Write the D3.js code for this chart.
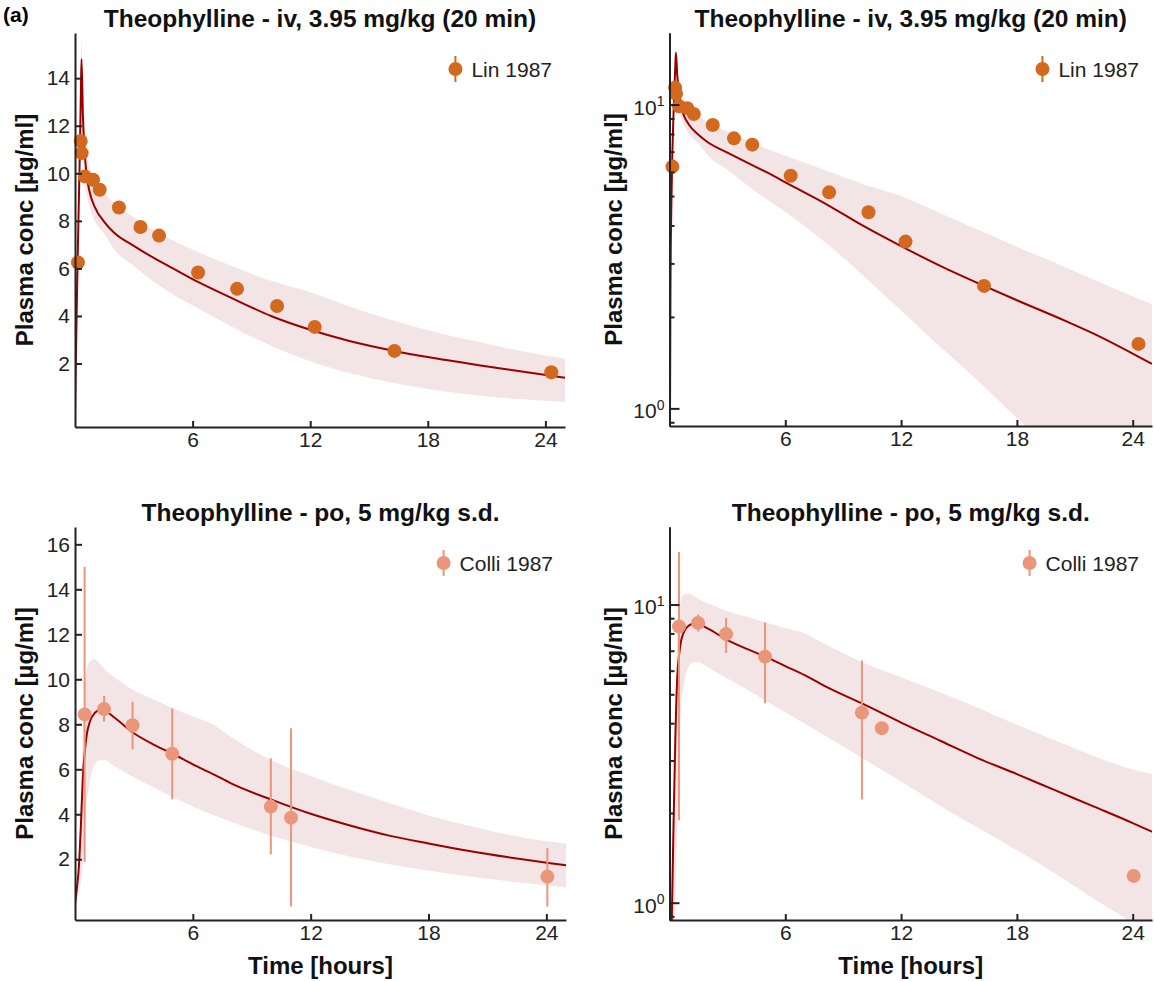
<!DOCTYPE html>
<html lang="en">
<head>
<meta charset="UTF-8">
<title>Theophylline PK</title>
<script src="https://d3js.org/d3.v7.min.js"></script>
<style>
    body { margin: 0; background: #fff; }
    svg { display: block; font-family: "Liberation Sans", Arial, sans-serif; }
    .axis path, .axis line { stroke: #222; stroke-width: 2; }
    .axis text { font-size: 21px; fill: #222; font-family: "Liberation Sans", Arial, sans-serif; }
    .title { font-size: 24.5px; font-weight: bold; fill: #111; }
    .axlab { font-size: 24px; font-weight: bold; fill: #111; }
    .legend text { font-size: 21px; fill: #222; }
</style>
</head>
<body>
<svg id="chart" width="1154" height="981"></svg>
<script>
    // simulation, iv infusion 3.95 mg/kg over 20 min (median + ribbon)
    const ivTime  = [0, 0.01, 0.05, 0.1, 0.15, 0.2, 0.25, 0.3, 0.333, 0.4, 0.5, 0.6, 0.75, 1, 1.5, 2, 3, 4, 5, 6.3, 8, 10, 12, 14, 16.3, 18, 20.6, 22, 25];
    const ivSim   = [0, 0.5, 2.4, 4.8, 7.0, 9.0, 11.0, 13.4, 14.8, 12.5, 10.8, 9.9, 9.2, 8.6, 7.95, 7.5, 6.95, 6.45, 6.0, 5.42, 4.75, 4.0, 3.42, 2.95, 2.53, 2.27, 1.93, 1.76, 1.4];
    const ivLower = [0, 0.45, 2.2, 4.4, 6.4, 8.2, 10.0, 12.2, 13.5, 11.3, 9.7, 9.1, 8.6, 8.0, 7.45, 6.8, 6.1, 5.45, 4.9, 4.3, 3.55, 2.75, 2.1, 1.6, 1.18, 0.93, 0.66, 0.55, 0.39];
    const ivUpper = [0, 0.55, 2.6, 5.2, 7.6, 9.8, 12.0, 14.5, 15.6, 14.0, 11.8, 10.8, 10.2, 9.7, 9.15, 8.75, 8.15, 7.62, 7.17, 6.68, 6.1, 5.48, 5.0, 4.4, 3.8, 3.4, 2.9, 2.65, 2.2];

    // observed, Lin 1987
    const linTime = [0.15, 0.29, 0.34, 0.5, 0.92, 1.26, 2.24, 3.34, 4.29, 6.28, 8.27, 10.31, 12.23, 16.3, 24.3];
    const linConc = [6.25, 11.36, 10.85, 9.87, 9.73, 9.31, 8.56, 7.74, 7.38, 5.83, 5.14, 4.42, 3.54, 2.53, 1.63];

    // simulation, po 5 mg/kg single dose
    const poTime  = [0, 0.1, 0.2, 0.3, 0.4, 0.5, 0.6, 0.75, 1, 1.25, 1.5, 2, 3, 4, 5, 6, 7, 8, 10, 12, 14, 16, 18, 20, 22, 24, 25];
    const poSim   = [0, 0.75, 1.7, 3.5, 5.65, 6.8, 7.55, 8.1, 8.5, 8.62, 8.6, 8.3, 7.6, 7.1, 6.68, 6.22, 5.8, 5.35, 4.65, 4.02, 3.5, 3.05, 2.7, 2.38, 2.1, 1.85, 1.73];
    const poLower = [0, 0.3, 0.6, 1.0, 1.8, 3.3, 4.5, 5.4, 6.2, 6.4, 6.4, 6.15, 5.65, 5.2, 4.75, 4.35, 3.98, 3.65, 3.05, 2.55, 2.12, 1.78, 1.5, 1.25, 1.03, 0.85, 0.75];
    const poUpper = [0, 0.9, 2.0, 4.5, 7.5, 9.6, 10.4, 10.8, 10.9, 10.7, 10.45, 10.1, 9.5, 9.1, 8.7, 8.35, 8.0, 7.4, 6.4, 5.7, 5.08, 4.5, 3.95, 3.5, 3.1, 2.8, 2.7];

    // observed, Colli 1987 (mean and error bar ends)
    const colliTime = [0.49, 1.48, 2.93, 4.95, 9.97, 11.0, 24.05];
    const colliConc = [8.44, 8.68, 7.96, 6.69, 4.34, 3.85, 1.23];
    const colliLow  = [1.89, 8.12, 6.89, 4.67, 2.22, -0.1, -0.1];
    const colliHigh = [15.0, 9.26, 9.0, 8.71, 6.49, 7.82, 2.49];

    const xTicks = [6, 12, 18, 24];
    const ivLinTicks = [2, 4, 6, 8, 10, 12, 14];
    const poLinTicks = [2, 4, 6, 8, 10, 12, 14, 16];
    const logMajor = [1, 10];
    const logMinor = [0.9, 2, 3, 4, 5, 6, 7, 8, 9];

    const ivTitle = "Theophylline - iv, 3.95 mg/kg (20 min)";
    const poTitle = "Theophylline - po, 5 mg/kg s.d.";

    const lineColor = "#9b0000";
    const ribbonColor = "#f3e4e5";

    const svg = d3.select("#chart");

    const panels = [
        { id: "tl", left: 75, right: 565, top: 33, bottom: 427, log: false, yDomain: [-0.67, 15.9], yTicks: ivLinTicks, labX: 33,
          title: ivTitle, xlab: false, sim: [ivTime, ivSim, ivLower, ivUpper], obs: "Lin 1987", color: "#d3691f" },
        { id: "tr", left: 669.5, right: 1152, top: 33, bottom: 426, log: true, yDomain: [0.875, 17.2], labX: 622,
          title: ivTitle, xlab: false, sim: [ivTime, ivSim, ivLower, ivUpper], obs: "Lin 1987", color: "#d3691f" },
        { id: "bl", left: 75, right: 566, top: 527, bottom: 920, log: false, yDomain: [-0.7, 16.77], yTicks: poLinTicks, labX: 33,
          title: poTitle, xlab: true, sim: [poTime, poSim, poLower, poUpper], obs: "Colli 1987", color: "#e9967a" },
        { id: "br", left: 669.5, right: 1152, top: 527, bottom: 920, log: true, yDomain: [0.875, 18.2], labX: 622,
          title: poTitle, xlab: true, sim: [poTime, poSim, poLower, poUpper], obs: "Colli 1987", color: "#e9967a" }
    ];

    function drawPanel(p) {
        const g = svg.append("g");
        const x = d3.scaleLinear().domain([0, 25]).range([p.left, p.right]);
        const y = (p.log ? d3.scaleLog() : d3.scaleLinear()).domain(p.yDomain).range([p.bottom, p.top]);
        const ok = v => !p.log || v > 0;

        g.append("clipPath").attr("id", "clip-" + p.id)
            .append("rect")
            .attr("x", p.left).attr("y", p.top)
            .attr("width", p.right - p.left).attr("height", p.bottom - p.top);

        const [time, sim, lower, upper] = p.sim;
        const idx = d3.range(time.length);

        const area = d3.area()
            .defined(i => ok(lower[i]) && ok(upper[i]))
            .x(i => x(time[i]))
            .y0(i => y(lower[i]))
            .y1(i => y(upper[i]))
            .curve(d3.curveMonotoneX);

        const line = d3.line()
            .defined(i => ok(sim[i]))
            .x(i => x(time[i]))
            .y(i => y(sim[i]))
            .curve(d3.curveMonotoneX);

        const plot = g.append("g").attr("clip-path", `url(#clip-${p.id})`);
        plot.append("path").datum(idx).attr("d", area).attr("fill", ribbonColor);
        plot.append("path").datum(idx).attr("d", line)
            .attr("fill", "none").attr("stroke", lineColor).attr("stroke-width", 2);

        // observed data
        let pts;
        if (p.obs === "Lin 1987") {
            pts = linTime.map((t, i) => ({ t: t, c: linConc[i] }));
        } else {
            pts = colliTime.map((t, i) => ({ t: t, c: colliConc[i], lo: colliLow[i], hi: colliHigh[i] }));
            // on log axes a bar whose lower end is <= 0 is dropped
            g.selectAll(".err").data(pts.filter(d => ok(d.lo)))
                .join("line")
                .attr("x1", d => x(d.t)).attr("x2", d => x(d.t))
                .attr("y1", d => y(d.lo)).attr("y2", d => y(d.hi))
                .attr("stroke", p.color).attr("stroke-width", 2);
        }
        g.selectAll(".pt").data(pts)
            .join("circle")
            .attr("cx", d => x(d.t)).attr("cy", d => y(d.c))
            .attr("r", 7).attr("fill", p.color);

        // axes, ticks point inward
        g.append("g").attr("class", "axis")
            .attr("transform", `translate(0,${p.bottom})`)
            .call(d3.axisBottom(x).tickValues(xTicks).tickSize(-6).tickSizeOuter(0).tickPadding(5));

        if (!p.log) {
            g.append("g").attr("class", "axis")
                .attr("transform", `translate(${p.left},0)`)
                .call(d3.axisLeft(y).tickValues(p.yTicks).tickSize(-7).tickSizeOuter(0).tickPadding(5));
        } else {
            const inDom = v => v >= p.yDomain[0] && v <= p.yDomain[1];
            g.append("g").attr("class", "axis")
                .attr("transform", `translate(${p.left},0)`)
                .call(d3.axisLeft(y).tickValues(logMinor.filter(inDom)).tickSize(-5).tickSizeOuter(0).tickFormat(""));
            const major = g.append("g").attr("class", "axis")
                .attr("transform", `translate(${p.left},0)`)
                .call(d3.axisLeft(y).tickValues(logMajor.filter(inDom)).tickSize(-10).tickSizeOuter(0).tickPadding(5));
            major.selectAll(".tick text").text(null).attr("dy", "0.45em").each(function (d) {
                const t = d3.select(this);
                t.append("tspan").text("10");
                t.append("tspan").attr("dy", "-0.6em").style("font-size", "14px").text(Math.round(Math.log10(d)));
            });
        }

        // titles
        g.append("text").attr("class", "title")
            .attr("x", (p.left + p.right) / 2).attr("y", p.top - 6)
            .attr("text-anchor", "middle").text(p.title);

        g.append("text").attr("class", "axlab")
            .attr("transform", `translate(${p.labX},${(p.top + p.bottom) / 2}) rotate(-90)`)
            .attr("text-anchor", "middle").text("Plasma conc [µg/ml]");

        if (p.xlab) {
            g.append("text").attr("class", "axlab")
                .attr("x", (p.left + p.right) / 2).attr("y", p.bottom + 54)
                .attr("text-anchor", "middle").text("Time [hours]");
        }

        // legend
        const leg = g.append("g").attr("class", "legend");
        const lt = leg.append("text")
            .attr("x", p.right - 13).attr("y", p.top + 44)
            .attr("text-anchor", "end").text(p.obs);
        const tx = p.right - 13 - lt.node().getComputedTextLength();
        const mx = tx - 16, my = p.top + 36;
        leg.append("line").attr("x1", mx).attr("x2", mx).attr("y1", my - 13).attr("y2", my + 13)
            .attr("stroke", p.color).attr("stroke-width", 2);
        leg.append("circle").attr("cx", mx).attr("cy", my).attr("r", 7).attr("fill", p.color);
    }

    panels.forEach(drawPanel);

    svg.append("text").attr("x", 3).attr("y", 22)
        .attr("font-size", 21).attr("font-weight", "bold").text("(a)");
</script>
</body>
</html>
